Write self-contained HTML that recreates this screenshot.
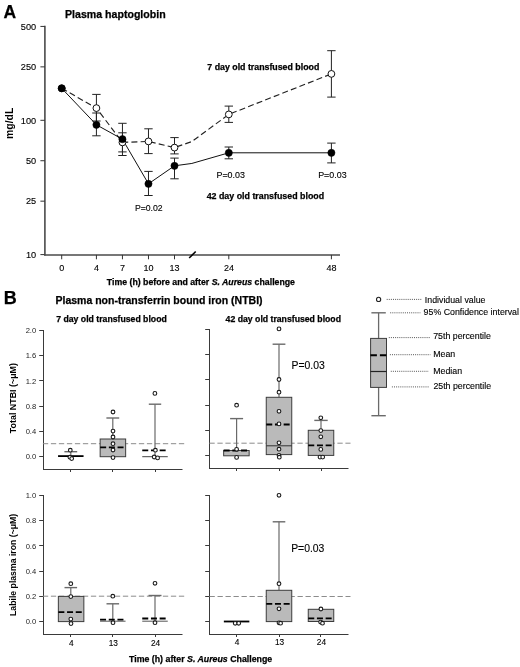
<!DOCTYPE html>
<html><head><meta charset="utf-8"><style>
html,body{margin:0;padding:0;background:#fff;width:520px;height:667px;overflow:hidden}
svg{display:block;font-family:"Liberation Sans", sans-serif;will-change:transform}
</style></head><body>
<svg width="520" height="667" viewBox="0 0 520 667">
<rect width="520" height="667" fill="#fff"/>
<text x="3.50" y="17.50" font-size="17.5" font-weight="bold" text-anchor="start" fill="#000"  stroke="#000" stroke-width="0.25">A</text>
<text x="65.00" y="18.40" font-size="10.6" font-weight="bold" text-anchor="start" fill="#000"  stroke="#000" stroke-width="0.25">Plasma haptoglobin</text>
<line x1="44.90" y1="25.80" x2="44.90" y2="255.60" stroke="#4a4a4a" stroke-width="1.6" />
<line x1="40.40" y1="26.43" x2="44.90" y2="26.43" stroke="#333" stroke-width="1" />
<text x="36.20" y="29.63" font-size="9.2" font-weight="normal" text-anchor="end" fill="#000"  stroke="#000" stroke-width="0.12">500</text>
<line x1="40.40" y1="66.86" x2="44.90" y2="66.86" stroke="#333" stroke-width="1" />
<text x="36.20" y="70.06" font-size="9.2" font-weight="normal" text-anchor="end" fill="#000"  stroke="#000" stroke-width="0.12">250</text>
<line x1="40.40" y1="120.30" x2="44.90" y2="120.30" stroke="#333" stroke-width="1" />
<text x="36.20" y="123.50" font-size="9.2" font-weight="normal" text-anchor="end" fill="#000"  stroke="#000" stroke-width="0.12">100</text>
<line x1="40.40" y1="160.73" x2="44.90" y2="160.73" stroke="#333" stroke-width="1" />
<text x="36.20" y="163.93" font-size="9.2" font-weight="normal" text-anchor="end" fill="#000"  stroke="#000" stroke-width="0.12">50</text>
<line x1="40.40" y1="201.16" x2="44.90" y2="201.16" stroke="#333" stroke-width="1" />
<text x="36.20" y="204.36" font-size="9.2" font-weight="normal" text-anchor="end" fill="#000"  stroke="#000" stroke-width="0.12">25</text>
<line x1="40.40" y1="254.60" x2="44.90" y2="254.60" stroke="#333" stroke-width="1" />
<text x="36.20" y="257.80" font-size="9.2" font-weight="normal" text-anchor="end" fill="#000"  stroke="#000" stroke-width="0.12">10</text>
<line x1="44.10" y1="254.90" x2="340.00" y2="254.90" stroke="#4a4a4a" stroke-width="1.5" />
<line x1="61.70" y1="254.90" x2="61.70" y2="259.30" stroke="#333" stroke-width="1" />
<text x="61.80" y="270.90" font-size="9.0" font-weight="normal" text-anchor="middle" fill="#000"  stroke="#000" stroke-width="0.12">0</text>
<line x1="96.41" y1="254.90" x2="96.41" y2="259.30" stroke="#333" stroke-width="1" />
<text x="96.51" y="270.90" font-size="9.0" font-weight="normal" text-anchor="middle" fill="#000"  stroke="#000" stroke-width="0.12">4</text>
<line x1="122.44" y1="254.90" x2="122.44" y2="259.30" stroke="#333" stroke-width="1" />
<text x="122.54" y="270.90" font-size="9.0" font-weight="normal" text-anchor="middle" fill="#000"  stroke="#000" stroke-width="0.12">7</text>
<line x1="148.47" y1="254.90" x2="148.47" y2="259.30" stroke="#333" stroke-width="1" />
<text x="148.57" y="270.90" font-size="9.0" font-weight="normal" text-anchor="middle" fill="#000"  stroke="#000" stroke-width="0.12">10</text>
<line x1="174.50" y1="254.90" x2="174.50" y2="259.30" stroke="#333" stroke-width="1" />
<text x="174.60" y="270.90" font-size="9.0" font-weight="normal" text-anchor="middle" fill="#000"  stroke="#000" stroke-width="0.12">13</text>
<line x1="228.80" y1="254.90" x2="228.80" y2="259.30" stroke="#333" stroke-width="1" />
<text x="228.90" y="270.90" font-size="9.0" font-weight="normal" text-anchor="middle" fill="#000"  stroke="#000" stroke-width="0.12">24</text>
<line x1="331.40" y1="254.90" x2="331.40" y2="259.30" stroke="#333" stroke-width="1" />
<text x="331.50" y="270.90" font-size="9.0" font-weight="normal" text-anchor="middle" fill="#000"  stroke="#000" stroke-width="0.12">48</text>
<line x1="189.20" y1="258.00" x2="195.70" y2="251.50" stroke="#000" stroke-width="1.6" />
<text x="106.80" y="284.70" font-size="8.75" font-weight="bold" text-anchor="start" fill="#000"  stroke="#000" stroke-width="0.25">Time (h) before and after <tspan font-style="italic">S. Aureus</tspan> challenge</text>
<text transform="translate(12.6,123.3) rotate(-90)" font-size="10.4" font-weight="bold" text-anchor="middle">mg/dL</text>
<line x1="96.41" y1="94.40" x2="96.41" y2="121.00" stroke="#222" stroke-width="1" />
<line x1="92.21" y1="94.40" x2="100.61" y2="94.40" stroke="#222" stroke-width="1" />
<line x1="92.21" y1="121.00" x2="100.61" y2="121.00" stroke="#222" stroke-width="1" />
<line x1="122.44" y1="132.80" x2="122.44" y2="151.90" stroke="#222" stroke-width="1" />
<line x1="118.24" y1="132.80" x2="126.64" y2="132.80" stroke="#222" stroke-width="1" />
<line x1="118.24" y1="151.90" x2="126.64" y2="151.90" stroke="#222" stroke-width="1" />
<line x1="148.47" y1="128.80" x2="148.47" y2="153.60" stroke="#222" stroke-width="1" />
<line x1="144.27" y1="128.80" x2="152.67" y2="128.80" stroke="#222" stroke-width="1" />
<line x1="144.27" y1="153.60" x2="152.67" y2="153.60" stroke="#222" stroke-width="1" />
<line x1="174.50" y1="137.60" x2="174.50" y2="153.90" stroke="#222" stroke-width="1" />
<line x1="170.30" y1="137.60" x2="178.70" y2="137.60" stroke="#222" stroke-width="1" />
<line x1="170.30" y1="153.90" x2="178.70" y2="153.90" stroke="#222" stroke-width="1" />
<line x1="228.80" y1="106.10" x2="228.80" y2="122.40" stroke="#222" stroke-width="1" />
<line x1="224.60" y1="106.10" x2="233.00" y2="106.10" stroke="#222" stroke-width="1" />
<line x1="224.60" y1="122.40" x2="233.00" y2="122.40" stroke="#222" stroke-width="1" />
<line x1="331.40" y1="50.70" x2="331.40" y2="97.10" stroke="#222" stroke-width="1" />
<line x1="327.20" y1="50.70" x2="335.60" y2="50.70" stroke="#222" stroke-width="1" />
<line x1="327.20" y1="97.10" x2="335.60" y2="97.10" stroke="#222" stroke-width="1" />
<line x1="96.41" y1="113.00" x2="96.41" y2="135.80" stroke="#222" stroke-width="1" />
<line x1="92.21" y1="113.00" x2="100.61" y2="113.00" stroke="#222" stroke-width="1" />
<line x1="92.21" y1="135.80" x2="100.61" y2="135.80" stroke="#222" stroke-width="1" />
<line x1="122.44" y1="123.30" x2="122.44" y2="155.50" stroke="#222" stroke-width="1" />
<line x1="118.24" y1="123.30" x2="126.64" y2="123.30" stroke="#222" stroke-width="1" />
<line x1="118.24" y1="155.50" x2="126.64" y2="155.50" stroke="#222" stroke-width="1" />
<line x1="148.47" y1="171.40" x2="148.47" y2="195.50" stroke="#222" stroke-width="1" />
<line x1="144.27" y1="171.40" x2="152.67" y2="171.40" stroke="#222" stroke-width="1" />
<line x1="144.27" y1="195.50" x2="152.67" y2="195.50" stroke="#222" stroke-width="1" />
<line x1="174.50" y1="158.10" x2="174.50" y2="178.80" stroke="#222" stroke-width="1" />
<line x1="170.30" y1="158.10" x2="178.70" y2="158.10" stroke="#222" stroke-width="1" />
<line x1="170.30" y1="178.80" x2="178.70" y2="178.80" stroke="#222" stroke-width="1" />
<line x1="228.80" y1="147.00" x2="228.80" y2="158.80" stroke="#222" stroke-width="1" />
<line x1="224.60" y1="147.00" x2="233.00" y2="147.00" stroke="#222" stroke-width="1" />
<line x1="224.60" y1="158.80" x2="233.00" y2="158.80" stroke="#222" stroke-width="1" />
<line x1="331.40" y1="143.10" x2="331.40" y2="162.90" stroke="#222" stroke-width="1" />
<line x1="327.20" y1="143.10" x2="335.60" y2="143.10" stroke="#222" stroke-width="1" />
<line x1="327.20" y1="162.90" x2="335.60" y2="162.90" stroke="#222" stroke-width="1" />
<polyline points="61.70,88.30 96.41,108.10 122.44,142.40 148.47,141.40 174.50,147.60 191.86,141.56 228.80,114.40 331.40,73.90" fill="none" stroke="#222" stroke-width="1.15" stroke-dasharray="6,3.2"/>
<polyline points="61.70,88.30 96.41,124.80 122.44,139.20 148.47,183.80 174.50,165.80 191.86,163.44 228.80,152.80 331.40,152.80" fill="none" stroke="#111" stroke-width="1.0"/>
<circle cx="61.70" cy="88.30" r="3.4" fill="#fff" stroke="#111" stroke-width="1"/>
<circle cx="96.41" cy="108.10" r="3.4" fill="#fff" stroke="#111" stroke-width="1"/>
<circle cx="122.44" cy="142.40" r="3.4" fill="#fff" stroke="#111" stroke-width="1"/>
<circle cx="148.47" cy="141.40" r="3.4" fill="#fff" stroke="#111" stroke-width="1"/>
<circle cx="174.50" cy="147.60" r="3.4" fill="#fff" stroke="#111" stroke-width="1"/>
<circle cx="228.80" cy="114.40" r="3.4" fill="#fff" stroke="#111" stroke-width="1"/>
<circle cx="331.40" cy="73.90" r="3.4" fill="#fff" stroke="#111" stroke-width="1"/>
<circle cx="61.70" cy="88.30" r="3.6" fill="#000" stroke="#000" stroke-width="0.5"/>
<circle cx="96.41" cy="124.80" r="3.6" fill="#000" stroke="#000" stroke-width="0.5"/>
<circle cx="122.44" cy="139.20" r="3.6" fill="#000" stroke="#000" stroke-width="0.5"/>
<circle cx="148.47" cy="183.80" r="3.6" fill="#000" stroke="#000" stroke-width="0.5"/>
<circle cx="174.50" cy="165.80" r="3.6" fill="#000" stroke="#000" stroke-width="0.5"/>
<circle cx="228.80" cy="152.80" r="3.6" fill="#000" stroke="#000" stroke-width="0.5"/>
<circle cx="331.40" cy="152.80" r="3.6" fill="#000" stroke="#000" stroke-width="0.5"/>
<text x="263.30" y="70.00" font-size="8.8" font-weight="bold" text-anchor="middle" fill="#000"  stroke="#000" stroke-width="0.25">7 day old transfused blood</text>
<text x="265.40" y="198.60" font-size="8.85" font-weight="bold" text-anchor="middle" fill="#000"  stroke="#000" stroke-width="0.25">42 day old transfused blood</text>
<text x="148.80" y="210.80" font-size="8.7" font-weight="normal" text-anchor="middle" fill="#000"  stroke="#000" stroke-width="0.12">P=0.02</text>
<text x="230.70" y="177.90" font-size="8.9" font-weight="normal" text-anchor="middle" fill="#000"  stroke="#000" stroke-width="0.12">P=0.03</text>
<text x="332.40" y="177.90" font-size="8.9" font-weight="normal" text-anchor="middle" fill="#000"  stroke="#000" stroke-width="0.12">P=0.03</text>
<text x="3.70" y="303.50" font-size="18" font-weight="bold" text-anchor="start" fill="#000"  stroke="#000" stroke-width="0.25">B</text>
<text x="55.50" y="304.25" font-size="10.5" font-weight="bold" text-anchor="start" fill="#000"  stroke="#000" stroke-width="0.25">Plasma non-transferrin bound iron (NTBI)</text>
<line x1="43.50" y1="330.00" x2="43.50" y2="470.00" stroke="#3a3a3a" stroke-width="1" />
<line x1="43.00" y1="469.50" x2="182.50" y2="469.50" stroke="#3a3a3a" stroke-width="1" />
<line x1="39.20" y1="456.50" x2="43.50" y2="456.50" stroke="#3a3a3a" stroke-width="1" />
<text x="36.20" y="459.20" font-size="7.6" font-weight="normal" text-anchor="end" fill="#222" >0.0</text>
<line x1="39.20" y1="431.50" x2="43.50" y2="431.50" stroke="#3a3a3a" stroke-width="1" />
<text x="36.20" y="433.98" font-size="7.6" font-weight="normal" text-anchor="end" fill="#222" >0.4</text>
<line x1="39.20" y1="406.50" x2="43.50" y2="406.50" stroke="#3a3a3a" stroke-width="1" />
<text x="36.20" y="408.76" font-size="7.6" font-weight="normal" text-anchor="end" fill="#222" >0.8</text>
<line x1="39.20" y1="380.50" x2="43.50" y2="380.50" stroke="#3a3a3a" stroke-width="1" />
<text x="36.20" y="383.54" font-size="7.6" font-weight="normal" text-anchor="end" fill="#222" >1.2</text>
<line x1="39.20" y1="355.50" x2="43.50" y2="355.50" stroke="#3a3a3a" stroke-width="1" />
<text x="36.20" y="358.32" font-size="7.6" font-weight="normal" text-anchor="end" fill="#222" >1.6</text>
<line x1="39.20" y1="330.50" x2="43.50" y2="330.50" stroke="#3a3a3a" stroke-width="1" />
<text x="36.20" y="333.10" font-size="7.6" font-weight="normal" text-anchor="end" fill="#222" >2.0</text>
<line x1="70.50" y1="469.50" x2="70.50" y2="472.00" stroke="#3a3a3a" stroke-width="1" />
<line x1="112.50" y1="469.50" x2="112.50" y2="472.00" stroke="#3a3a3a" stroke-width="1" />
<line x1="155.50" y1="469.50" x2="155.50" y2="472.00" stroke="#3a3a3a" stroke-width="1" />
<line x1="70.80" y1="451.70" x2="70.80" y2="456.10" stroke="#6a6a6a" stroke-width="1.2" />
<line x1="64.40" y1="451.70" x2="77.20" y2="451.70" stroke="#6a6a6a" stroke-width="1.4" />
<line x1="42.90" y1="443.70" x2="184.80" y2="443.70" stroke="#8c8c8c" stroke-width="1" stroke-dasharray="5.3,2.7"/>
<line x1="58.05" y1="456.10" x2="83.55" y2="456.10" stroke="#000" stroke-width="1.8" />
<circle cx="70.30" cy="450.20" r="1.85" fill="#fff" stroke="#1a1a1a" stroke-width="1.1"/>
<circle cx="69.90" cy="457.20" r="1.85" fill="#fff" stroke="#1a1a1a" stroke-width="1.1"/>
<circle cx="71.70" cy="458.60" r="1.85" fill="#fff" stroke="#1a1a1a" stroke-width="1.1"/>
<line x1="112.80" y1="418.00" x2="112.80" y2="439.00" stroke="#6a6a6a" stroke-width="1.2" />
<line x1="106.40" y1="418.00" x2="119.20" y2="418.00" stroke="#6a6a6a" stroke-width="1.4" />
<rect x="100.15" y="439.00" width="25.50" height="17.70" fill="#bababa" stroke="#3c3c3c" stroke-width="1"/>
<line x1="100.15" y1="447.30" x2="125.65" y2="447.30" stroke="#000" stroke-width="1.8" stroke-dasharray="6,2.7"/>
<circle cx="113.00" cy="412.00" r="1.85" fill="#fff" stroke="#1a1a1a" stroke-width="1.1"/>
<circle cx="113.00" cy="431.10" r="1.85" fill="#fff" stroke="#1a1a1a" stroke-width="1.1"/>
<circle cx="113.00" cy="437.00" r="1.85" fill="#fff" stroke="#1a1a1a" stroke-width="1.1"/>
<circle cx="113.00" cy="443.70" r="1.85" fill="#fff" stroke="#1a1a1a" stroke-width="1.1"/>
<circle cx="113.00" cy="450.00" r="1.85" fill="#fff" stroke="#1a1a1a" stroke-width="1.1"/>
<circle cx="113.00" cy="457.60" r="1.85" fill="#fff" stroke="#1a1a1a" stroke-width="1.1"/>
<line x1="155.00" y1="404.20" x2="155.00" y2="456.70" stroke="#6a6a6a" stroke-width="1.2" />
<line x1="148.80" y1="404.20" x2="161.20" y2="404.20" stroke="#6a6a6a" stroke-width="1.4" />
<line x1="142.25" y1="456.70" x2="167.75" y2="456.70" stroke="#444" stroke-width="1" />
<line x1="142.25" y1="450.40" x2="167.75" y2="450.40" stroke="#000" stroke-width="1.8" stroke-dasharray="6,2.7"/>
<circle cx="154.90" cy="393.40" r="1.85" fill="#fff" stroke="#1a1a1a" stroke-width="1.1"/>
<circle cx="155.40" cy="450.20" r="1.85" fill="#fff" stroke="#1a1a1a" stroke-width="1.1"/>
<circle cx="154.20" cy="457.00" r="1.85" fill="#fff" stroke="#1a1a1a" stroke-width="1.1"/>
<circle cx="157.60" cy="457.90" r="1.85" fill="#fff" stroke="#1a1a1a" stroke-width="1.1"/>
<line x1="209.50" y1="329.00" x2="209.50" y2="469.00" stroke="#3a3a3a" stroke-width="1" />
<line x1="209.00" y1="468.50" x2="348.50" y2="468.50" stroke="#3a3a3a" stroke-width="1" />
<line x1="205.20" y1="455.50" x2="209.50" y2="455.50" stroke="#3a3a3a" stroke-width="1" />
<line x1="205.20" y1="430.50" x2="209.50" y2="430.50" stroke="#3a3a3a" stroke-width="1" />
<line x1="205.20" y1="405.50" x2="209.50" y2="405.50" stroke="#3a3a3a" stroke-width="1" />
<line x1="205.20" y1="379.50" x2="209.50" y2="379.50" stroke="#3a3a3a" stroke-width="1" />
<line x1="205.20" y1="354.50" x2="209.50" y2="354.50" stroke="#3a3a3a" stroke-width="1" />
<line x1="205.20" y1="329.50" x2="209.50" y2="329.50" stroke="#3a3a3a" stroke-width="1" />
<line x1="236.50" y1="468.50" x2="236.50" y2="471.00" stroke="#3a3a3a" stroke-width="1" />
<line x1="279.50" y1="468.50" x2="279.50" y2="471.00" stroke="#3a3a3a" stroke-width="1" />
<line x1="321.50" y1="468.50" x2="321.50" y2="471.00" stroke="#3a3a3a" stroke-width="1" />
<line x1="209.40" y1="443.20" x2="350.50" y2="443.20" stroke="#8c8c8c" stroke-width="1" stroke-dasharray="5.3,2.7"/>
<line x1="236.60" y1="418.60" x2="236.60" y2="450.50" stroke="#6a6a6a" stroke-width="1.2" />
<line x1="230.10" y1="418.60" x2="243.10" y2="418.60" stroke="#6a6a6a" stroke-width="1.4" />
<rect x="223.65" y="450.50" width="25.50" height="5.30" fill="#bababa" stroke="#3c3c3c" stroke-width="1"/>
<line x1="223.65" y1="450.50" x2="249.15" y2="450.50" stroke="#000" stroke-width="1.8" stroke-dasharray="6,2.7"/>
<circle cx="236.60" cy="405.20" r="1.85" fill="#fff" stroke="#1a1a1a" stroke-width="1.1"/>
<circle cx="236.60" cy="449.30" r="1.85" fill="#fff" stroke="#1a1a1a" stroke-width="1.1"/>
<circle cx="236.60" cy="457.40" r="1.85" fill="#fff" stroke="#1a1a1a" stroke-width="1.1"/>
<line x1="279.00" y1="344.20" x2="279.00" y2="397.30" stroke="#6a6a6a" stroke-width="1.2" />
<line x1="272.60" y1="344.20" x2="285.40" y2="344.20" stroke="#6a6a6a" stroke-width="1.4" />
<rect x="266.25" y="397.30" width="25.50" height="57.30" fill="#bababa" stroke="#3c3c3c" stroke-width="1"/>
<line x1="266.25" y1="424.50" x2="291.75" y2="424.50" stroke="#000" stroke-width="1.8" stroke-dasharray="6,2.7"/>
<line x1="266.25" y1="445.80" x2="291.75" y2="445.80" stroke="#333" stroke-width="1" />
<circle cx="279.00" cy="328.90" r="1.85" fill="#fff" stroke="#1a1a1a" stroke-width="1.1"/>
<circle cx="279.00" cy="379.50" r="1.85" fill="#fff" stroke="#1a1a1a" stroke-width="1.1"/>
<circle cx="279.00" cy="392.20" r="1.85" fill="#fff" stroke="#1a1a1a" stroke-width="1.1"/>
<circle cx="279.00" cy="411.30" r="1.85" fill="#fff" stroke="#1a1a1a" stroke-width="1.1"/>
<circle cx="279.00" cy="423.90" r="1.85" fill="#fff" stroke="#1a1a1a" stroke-width="1.1"/>
<circle cx="279.00" cy="442.80" r="1.85" fill="#fff" stroke="#1a1a1a" stroke-width="1.1"/>
<circle cx="279.00" cy="449.20" r="1.85" fill="#fff" stroke="#1a1a1a" stroke-width="1.1"/>
<circle cx="279.00" cy="455.40" r="1.85" fill="#fff" stroke="#1a1a1a" stroke-width="1.1"/>
<circle cx="279.30" cy="457.20" r="1.85" fill="#fff" stroke="#1a1a1a" stroke-width="1.1"/>
<line x1="321.00" y1="420.40" x2="321.00" y2="430.30" stroke="#6a6a6a" stroke-width="1.2" />
<line x1="314.30" y1="420.40" x2="327.70" y2="420.40" stroke="#6a6a6a" stroke-width="1.4" />
<rect x="308.25" y="430.30" width="25.50" height="25.10" fill="#bababa" stroke="#3c3c3c" stroke-width="1"/>
<line x1="308.25" y1="445.30" x2="333.75" y2="445.30" stroke="#000" stroke-width="1.8" stroke-dasharray="6,2.7"/>
<circle cx="320.80" cy="417.80" r="1.85" fill="#fff" stroke="#1a1a1a" stroke-width="1.1"/>
<circle cx="320.80" cy="430.60" r="1.85" fill="#fff" stroke="#1a1a1a" stroke-width="1.1"/>
<circle cx="320.80" cy="436.80" r="1.85" fill="#fff" stroke="#1a1a1a" stroke-width="1.1"/>
<circle cx="320.80" cy="449.40" r="1.85" fill="#fff" stroke="#1a1a1a" stroke-width="1.1"/>
<circle cx="320.00" cy="457.10" r="1.85" fill="#fff" stroke="#1a1a1a" stroke-width="1.1"/>
<circle cx="322.70" cy="457.10" r="1.85" fill="#fff" stroke="#1a1a1a" stroke-width="1.1"/>
<line x1="43.50" y1="495.00" x2="43.50" y2="635.00" stroke="#3a3a3a" stroke-width="1" />
<line x1="43.00" y1="634.50" x2="182.50" y2="634.50" stroke="#3a3a3a" stroke-width="1" />
<line x1="39.20" y1="621.50" x2="43.50" y2="621.50" stroke="#3a3a3a" stroke-width="1" />
<text x="36.20" y="624.20" font-size="7.6" font-weight="normal" text-anchor="end" fill="#222" >0.0</text>
<line x1="39.20" y1="596.50" x2="43.50" y2="596.50" stroke="#3a3a3a" stroke-width="1" />
<text x="36.20" y="598.98" font-size="7.6" font-weight="normal" text-anchor="end" fill="#222" >0.2</text>
<line x1="39.20" y1="571.50" x2="43.50" y2="571.50" stroke="#3a3a3a" stroke-width="1" />
<text x="36.20" y="573.76" font-size="7.6" font-weight="normal" text-anchor="end" fill="#222" >0.4</text>
<line x1="39.20" y1="545.50" x2="43.50" y2="545.50" stroke="#3a3a3a" stroke-width="1" />
<text x="36.20" y="548.54" font-size="7.6" font-weight="normal" text-anchor="end" fill="#222" >0.6</text>
<line x1="39.20" y1="520.50" x2="43.50" y2="520.50" stroke="#3a3a3a" stroke-width="1" />
<text x="36.20" y="523.32" font-size="7.6" font-weight="normal" text-anchor="end" fill="#222" >0.8</text>
<line x1="39.20" y1="495.50" x2="43.50" y2="495.50" stroke="#3a3a3a" stroke-width="1" />
<text x="36.20" y="498.10" font-size="7.6" font-weight="normal" text-anchor="end" fill="#222" >1.0</text>
<line x1="70.50" y1="634.50" x2="70.50" y2="637.00" stroke="#3a3a3a" stroke-width="1" />
<text x="71.30" y="646.20" font-size="8.3" font-weight="normal" text-anchor="middle" fill="#000"  stroke="#000" stroke-width="0.12">4</text>
<line x1="112.50" y1="634.50" x2="112.50" y2="637.00" stroke="#3a3a3a" stroke-width="1" />
<text x="113.30" y="646.20" font-size="8.3" font-weight="normal" text-anchor="middle" fill="#000"  stroke="#000" stroke-width="0.12">13</text>
<line x1="155.50" y1="634.50" x2="155.50" y2="637.00" stroke="#3a3a3a" stroke-width="1" />
<text x="155.60" y="646.20" font-size="8.3" font-weight="normal" text-anchor="middle" fill="#000"  stroke="#000" stroke-width="0.12">24</text>
<line x1="42.90" y1="596.20" x2="184.80" y2="596.20" stroke="#8c8c8c" stroke-width="1" stroke-dasharray="5.3,2.7"/>
<line x1="70.80" y1="587.60" x2="70.80" y2="596.40" stroke="#6a6a6a" stroke-width="1.2" />
<line x1="64.50" y1="587.60" x2="77.10" y2="587.60" stroke="#6a6a6a" stroke-width="1.4" />
<rect x="58.35" y="596.40" width="25.50" height="25.20" fill="#bababa" stroke="#3c3c3c" stroke-width="1"/>
<line x1="58.35" y1="612.10" x2="83.85" y2="612.10" stroke="#000" stroke-width="1.8" stroke-dasharray="6,2.7"/>
<circle cx="70.80" cy="583.70" r="1.85" fill="#fff" stroke="#1a1a1a" stroke-width="1.1"/>
<circle cx="70.80" cy="596.60" r="1.85" fill="#fff" stroke="#1a1a1a" stroke-width="1.1"/>
<circle cx="70.80" cy="619.10" r="1.85" fill="#fff" stroke="#1a1a1a" stroke-width="1.1"/>
<circle cx="71.00" cy="623.60" r="1.85" fill="#fff" stroke="#1a1a1a" stroke-width="1.1"/>
<line x1="112.80" y1="603.80" x2="112.80" y2="621.20" stroke="#6a6a6a" stroke-width="1.2" />
<line x1="106.50" y1="603.80" x2="119.10" y2="603.80" stroke="#6a6a6a" stroke-width="1.4" />
<line x1="100.05" y1="621.20" x2="125.55" y2="621.20" stroke="#555" stroke-width="1" />
<line x1="100.05" y1="619.60" x2="125.55" y2="619.60" stroke="#000" stroke-width="1.8" stroke-dasharray="6,2.7"/>
<circle cx="112.80" cy="596.20" r="1.85" fill="#fff" stroke="#1a1a1a" stroke-width="1.1"/>
<circle cx="113.00" cy="622.70" r="1.85" fill="#fff" stroke="#1a1a1a" stroke-width="1.1"/>
<line x1="155.00" y1="595.50" x2="155.00" y2="621.20" stroke="#6a6a6a" stroke-width="1.2" />
<line x1="148.50" y1="595.50" x2="161.50" y2="595.50" stroke="#6a6a6a" stroke-width="1.4" />
<line x1="142.25" y1="621.20" x2="167.75" y2="621.20" stroke="#555" stroke-width="1" />
<line x1="142.25" y1="618.50" x2="167.75" y2="618.50" stroke="#000" stroke-width="1.8" stroke-dasharray="6,2.7"/>
<circle cx="155.00" cy="583.30" r="1.85" fill="#fff" stroke="#1a1a1a" stroke-width="1.1"/>
<circle cx="155.00" cy="622.70" r="1.85" fill="#fff" stroke="#1a1a1a" stroke-width="1.1"/>
<line x1="209.50" y1="495.00" x2="209.50" y2="635.00" stroke="#3a3a3a" stroke-width="1" />
<line x1="209.00" y1="634.50" x2="348.50" y2="634.50" stroke="#3a3a3a" stroke-width="1" />
<line x1="205.20" y1="621.50" x2="209.50" y2="621.50" stroke="#3a3a3a" stroke-width="1" />
<line x1="205.20" y1="596.50" x2="209.50" y2="596.50" stroke="#3a3a3a" stroke-width="1" />
<line x1="205.20" y1="571.50" x2="209.50" y2="571.50" stroke="#3a3a3a" stroke-width="1" />
<line x1="205.20" y1="545.50" x2="209.50" y2="545.50" stroke="#3a3a3a" stroke-width="1" />
<line x1="205.20" y1="520.50" x2="209.50" y2="520.50" stroke="#3a3a3a" stroke-width="1" />
<line x1="205.20" y1="495.50" x2="209.50" y2="495.50" stroke="#3a3a3a" stroke-width="1" />
<line x1="236.50" y1="634.50" x2="236.50" y2="637.00" stroke="#3a3a3a" stroke-width="1" />
<text x="237.10" y="645.30" font-size="8.3" font-weight="normal" text-anchor="middle" fill="#000"  stroke="#000" stroke-width="0.12">4</text>
<line x1="279.50" y1="634.50" x2="279.50" y2="637.00" stroke="#3a3a3a" stroke-width="1" />
<text x="279.50" y="645.30" font-size="8.3" font-weight="normal" text-anchor="middle" fill="#000"  stroke="#000" stroke-width="0.12">13</text>
<line x1="320.50" y1="634.50" x2="320.50" y2="637.00" stroke="#3a3a3a" stroke-width="1" />
<text x="321.40" y="645.30" font-size="8.3" font-weight="normal" text-anchor="middle" fill="#000"  stroke="#000" stroke-width="0.12">24</text>
<line x1="209.50" y1="596.50" x2="350.50" y2="596.50" stroke="#8c8c8c" stroke-width="1" stroke-dasharray="5.3,2.7"/>
<line x1="223.85" y1="621.50" x2="249.35" y2="621.50" stroke="#000" stroke-width="1.8" />
<circle cx="235.20" cy="623.30" r="1.85" fill="#fff" stroke="#1a1a1a" stroke-width="1.1"/>
<circle cx="238.70" cy="623.30" r="1.85" fill="#fff" stroke="#1a1a1a" stroke-width="1.1"/>
<line x1="279.00" y1="521.80" x2="279.00" y2="590.30" stroke="#6a6a6a" stroke-width="1.2" />
<line x1="272.70" y1="521.80" x2="285.30" y2="521.80" stroke="#6a6a6a" stroke-width="1.4" />
<rect x="266.25" y="590.30" width="25.50" height="31.30" fill="#bababa" stroke="#3c3c3c" stroke-width="1"/>
<line x1="266.25" y1="603.90" x2="291.75" y2="603.90" stroke="#000" stroke-width="1.8" stroke-dasharray="6,2.7"/>
<circle cx="279.00" cy="495.30" r="1.85" fill="#fff" stroke="#1a1a1a" stroke-width="1.1"/>
<circle cx="279.00" cy="583.70" r="1.85" fill="#fff" stroke="#1a1a1a" stroke-width="1.1"/>
<circle cx="279.00" cy="608.80" r="1.85" fill="#fff" stroke="#1a1a1a" stroke-width="1.1"/>
<circle cx="279.00" cy="622.80" r="1.85" fill="#fff" stroke="#1a1a1a" stroke-width="1.1"/>
<circle cx="280.60" cy="623.20" r="1.85" fill="#fff" stroke="#1a1a1a" stroke-width="1.1"/>
<rect x="308.25" y="609.30" width="25.50" height="12.20" fill="#bababa" stroke="#3c3c3c" stroke-width="1"/>
<line x1="308.25" y1="618.30" x2="333.75" y2="618.30" stroke="#000" stroke-width="1.8" stroke-dasharray="6,2.7"/>
<circle cx="320.90" cy="609.00" r="1.85" fill="#fff" stroke="#1a1a1a" stroke-width="1.1"/>
<circle cx="320.60" cy="622.10" r="1.85" fill="#fff" stroke="#1a1a1a" stroke-width="1.1"/>
<circle cx="322.50" cy="623.20" r="1.85" fill="#fff" stroke="#1a1a1a" stroke-width="1.1"/>
<text x="33.00" y="653.00" font-size="1" font-weight="normal" text-anchor="start" fill="#000"  stroke="#000" stroke-width="0.12"></text>
<text x="129.00" y="662.10" font-size="8.8" font-weight="bold" text-anchor="start" fill="#000"  stroke="#000" stroke-width="0.25">Time (h) after <tspan font-style="italic">S. Aureus</tspan> Challenge</text>
<text transform="translate(15.6,398.1) rotate(-90)" font-size="8.9" font-weight="bold" text-anchor="middle">Total NTBI (~μM)</text>
<text transform="translate(16.2,564.9) rotate(-90)" font-size="8.7" font-weight="bold" text-anchor="middle">Labile plasma iron (~μM)</text>
<text x="111.50" y="322.00" font-size="8.7" font-weight="bold" text-anchor="middle" fill="#000"  stroke="#000" stroke-width="0.25">7 day old transfused blood</text>
<text x="283.30" y="322.30" font-size="8.7" font-weight="bold" text-anchor="middle" fill="#000"  stroke="#000" stroke-width="0.25">42 day old transfused blood</text>
<text x="308.20" y="369.30" font-size="10.4" font-weight="normal" text-anchor="middle" fill="#000"  stroke="#000" stroke-width="0.12">P=0.03</text>
<text x="307.80" y="552.40" font-size="10.4" font-weight="normal" text-anchor="middle" fill="#000"  stroke="#000" stroke-width="0.12">P=0.03</text>
<circle cx="378.60" cy="299.40" r="2.1" fill="#fff" stroke="#222" stroke-width="1.1"/>
<line x1="386.70" y1="299.40" x2="421.60" y2="299.40" stroke="#444" stroke-width="0.9" stroke-dasharray="1,1.1"/>
<text x="424.80" y="302.60" font-size="8.8" font-weight="normal" text-anchor="start" fill="#000"  stroke="#000" stroke-width="0.12">Individual value</text>
<line x1="378.60" y1="312.80" x2="378.60" y2="415.70" stroke="#6a6a6a" stroke-width="1.3" />
<line x1="371.40" y1="312.80" x2="385.80" y2="312.80" stroke="#6a6a6a" stroke-width="1.4" />
<line x1="371.40" y1="415.70" x2="385.80" y2="415.70" stroke="#6a6a6a" stroke-width="1.4" />
<rect x="370.6" y="338.4" width="15.9" height="49" fill="#bababa" stroke="#3c3c3c" stroke-width="1"/>
<line x1="370.40" y1="355.30" x2="386.60" y2="355.30" stroke="#000" stroke-width="2" stroke-dasharray="6.5,3"/>
<line x1="370.40" y1="371.50" x2="386.60" y2="371.50" stroke="#222" stroke-width="1.2" />
<line x1="390.20" y1="312.80" x2="420.40" y2="312.80" stroke="#444" stroke-width="0.9" stroke-dasharray="1,1.1"/>
<text x="423.60" y="315.40" font-size="8.8" font-weight="normal" text-anchor="start" fill="#000"  stroke="#000" stroke-width="0.12">95% Confidence interval</text>
<line x1="388.80" y1="337.60" x2="430.40" y2="337.60" stroke="#444" stroke-width="0.9" stroke-dasharray="1,1.1"/>
<text x="433.20" y="339.30" font-size="8.8" font-weight="normal" text-anchor="start" fill="#000"  stroke="#000" stroke-width="0.12">75th percentile</text>
<line x1="389.90" y1="354.70" x2="430.40" y2="354.70" stroke="#444" stroke-width="0.9" stroke-dasharray="1,1.1"/>
<text x="433.20" y="357.40" font-size="8.8" font-weight="normal" text-anchor="start" fill="#000"  stroke="#000" stroke-width="0.12">Mean</text>
<line x1="390.80" y1="371.30" x2="428.80" y2="371.30" stroke="#444" stroke-width="0.9" stroke-dasharray="1,1.1"/>
<text x="433.20" y="373.90" font-size="8.8" font-weight="normal" text-anchor="start" fill="#000"  stroke="#000" stroke-width="0.12">Median</text>
<line x1="391.90" y1="386.90" x2="429.60" y2="386.90" stroke="#444" stroke-width="0.9" stroke-dasharray="1,1.1"/>
<text x="433.40" y="389.10" font-size="8.8" font-weight="normal" text-anchor="start" fill="#000"  stroke="#000" stroke-width="0.12">25th percentile</text>
</svg>
</body></html>
